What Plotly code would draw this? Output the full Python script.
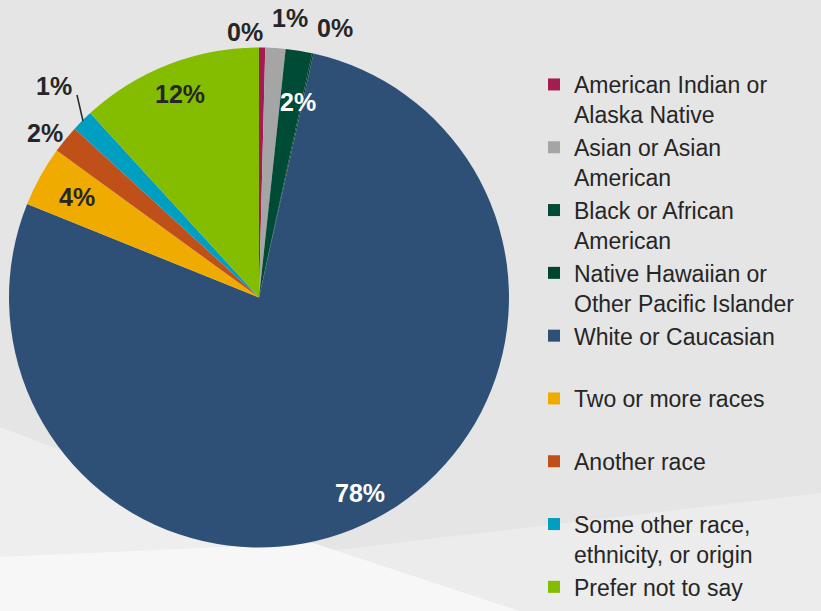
import re
import plotly.graph_objects as go

categories = [
    "American Indian or<br>Alaska Native",
    "Asian or Asian<br>American",
    "Black or African<br>American",
    "Native Hawaiian or<br>Other Pacific Islander",
    "White or Caucasian<br>&nbsp;",
    "Two or more races<br>&nbsp;",
    "Another race<br>&nbsp;",
    "Some other race,<br>ethnicity, or origin",
    "Prefer not to say",
]
values = [0.4, 1.3, 1.7, 0.1, 77.6, 3.9, 1.8, 1.4, 11.8]
colors = ["#A51C50", "#A5A5A5", "#004B35", "#00462F", "#2E5077",
          "#F0AB00", "#C0501A", "#009FC1", "#84BD00"]
pct_labels = ["0%", "1%", "2%", "0%", "78%", "4%", "2%", "1%", "12%"]

W, H = 821, 611

fig = go.Figure()
fig.add_trace(go.Pie(
    labels=categories,
    values=values,
    sort=False,
    direction="clockwise",
    rotation=0,
    marker=dict(colors=colors, line=dict(width=0)),
    textinfo="none",
    hoverinfo="label+percent",
    domain=dict(x=[9 / W, 509 / W], y=[1 - 548 / H, 1 - 47 / H]),
    showlegend=True,
))

# data label positions (pixel), in slice order
label_pos = [(245, 32), (290, 18), (298, 102), (335, 28), (360, 493),
             (77, 197), (45, 133), (54, 86), (180, 94)]
label_colors = ["#262626", "#262626", "#FFFFFF", "#262626", "#FFFFFF",
                "#262626", "#262626", "#262626", "#262626"]
annotations = []
for i, (px, py) in enumerate(label_pos):
    annotations.append(dict(
        x=px / W, y=1 - py / H, xref="paper", yref="paper",
        text=pct_labels[i], showarrow=False,
        font=dict(family="Liberation Sans, Arial, sans-serif", size=25,
                  color=label_colors[i], weight="bold"),
        xanchor="center", yanchor="middle",
    ))


def px_path(p):
    def repl(m):
        x = float(m.group(1)) / W
        y = 1 - float(m.group(2)) / H
        return f"{x:.5f},{y:.5f}"
    return re.sub(r"([\d.]+),([\d.]+)", repl, p)


bg_paths = [
    ("M0,427 L480,611 L0,611 Z", "#EEEEEE"),
    ("M200,566 L821,493 L821,611 L200,611 Z", "#ECECEC"),
    ("M0,557 L313,543 L520,611 L0,611 Z", "#F7F7F7"),
]
shapes = [dict(type="path", path=px_path(p), xref="paper", yref="paper",
               fillcolor=c, line=dict(width=0), layer="below")
          for p, c in bg_paths]

# leader line for "1%" (Some other race)
shapes.append(dict(type="line", xref="paper", yref="paper",
                   x0=77 / W, y0=1 - 95 / H, x1=83 / W, y1=1 - 121 / H,
                   line=dict(color="#262626", width=1.5)))

fig.update_layout(
    width=W, height=H,
    margin=dict(l=0, r=0, t=0, b=0, autoexpand=False),
    paper_bgcolor="#E5E5E5",
    plot_bgcolor="rgba(0,0,0,0)",
    shapes=shapes,
    annotations=annotations,
    legend=dict(
        x=534 / W, xanchor="left",
        y=1 - 63 / H, yanchor="top",
        valign="top",
        font=dict(family="Liberation Sans, Arial, sans-serif", size=23, color="#262626"),
        bgcolor="rgba(0,0,0,0)",
        borderwidth=0,
        traceorder="normal",
    ),
)

fig.write_html(
    "out.html",
    config={"displayModeBar": False},
    post_script="document.body.style.margin='0';document.body.style.overflow='hidden';document.body.style.background='#E5E5E5';",
)
